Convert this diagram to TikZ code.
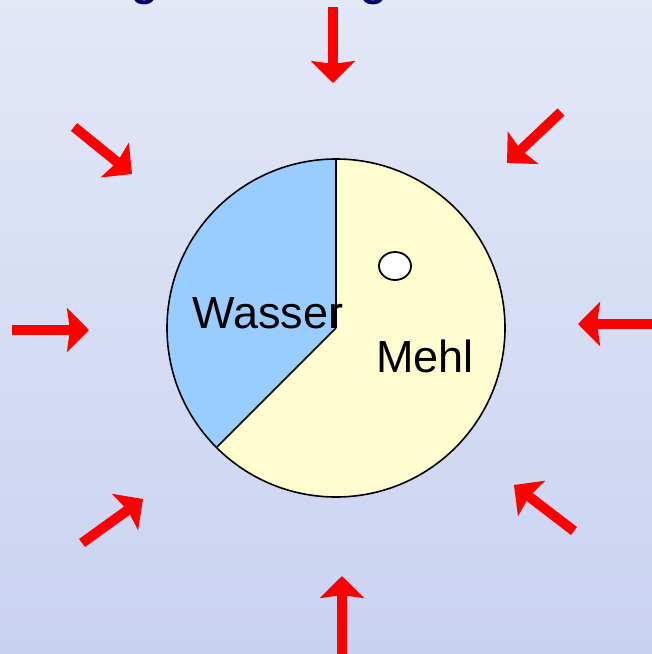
\documentclass[tikz,border=0pt]{standalone}
\usepackage{fontspec}
\setmainfont{Liberation Sans}
\usetikzlibrary{arrows.meta}
\definecolor{bgtop}{RGB}{227,232,247}
\definecolor{bgbot}{RGB}{201,210,240}
\definecolor{wasserblue}{RGB}{153,204,255}
\definecolor{mehlyellow}{RGB}{255,252,208}
\definecolor{titlenavy}{RGB}{0,0,102}
\definecolor{arrowred}{RGB}{255,0,0}
\tikzset{
  pressarrow/.style={draw=arrowred, line width=10pt,
    -{Stealth[length=22pt,width=44pt,inset=3pt,fill=arrowred]}},
  label/.style={inner sep=0pt, font=\fontsize{45}{54}\selectfont},
  titletext/.style={inner sep=0pt, text=titlenavy, font=\bfseries\fontsize{44}{52}\selectfont}
}
\begin{document}
\begin{tikzpicture}[x=1pt,y=-1pt]
\useasboundingbox (0,0) rectangle (652,654);
\clip (0,0) rectangle (652,654);
\shade[top color=bgtop, bottom color=bgbot] (0,0) rectangle (652,654);
% cut-off title descenders
\node[titletext, anchor=base west] (g1) at (131,-5) {g};
\node[titletext, anchor=base west] (g2) at (360,-5) {g};
% pie
\coordinate (c) at (336,328);
\fill[mehlyellow] (c) -- ++(135:169) arc[start angle=135, end angle=-90, radius=169] -- cycle;
\fill[wasserblue] (c) -- ++(270:169) arc[start angle=270, end angle=135, radius=169] -- cycle;
\draw[line width=1.6pt] (c) circle[radius=169];
\draw[line width=1.6pt] (c) -- ++(270:169);
\draw[line width=1.6pt] (c) -- ++(135:169);
\draw[line width=1.8pt, fill=white] (395,266) ellipse[x radius=16, y radius=14];
\node[label, anchor=base west] (wasser) at (192,328) {Wasser};
\node[label, anchor=base west] (mehl) at (376,372) {Mehl};
% arrows
\coordinate (t0) at (333,7);   \coordinate (t1) at (333,83);
\coordinate (b0) at (342,665); \coordinate (b1) at (342,576);
\coordinate (l0) at (12,330);  \coordinate (l1) at (89,330);
\coordinate (r0) at (665,324); \coordinate (r1) at (578,324);
\coordinate (tl0) at (74,127); \coordinate (tl1) at (132,174);
\coordinate (tr0) at (561,112); \coordinate (tr1) at (507,163);
\coordinate (bl0) at (82,543); \coordinate (bl1) at (143,499);
\coordinate (br0) at (574,531); \coordinate (br1) at (514,485);
\foreach \a in {t,b,l,r,tl,tr,bl,br}{
  \draw[pressarrow] (\a0) -- (\a1);
}
\end{tikzpicture}
\end{document}
